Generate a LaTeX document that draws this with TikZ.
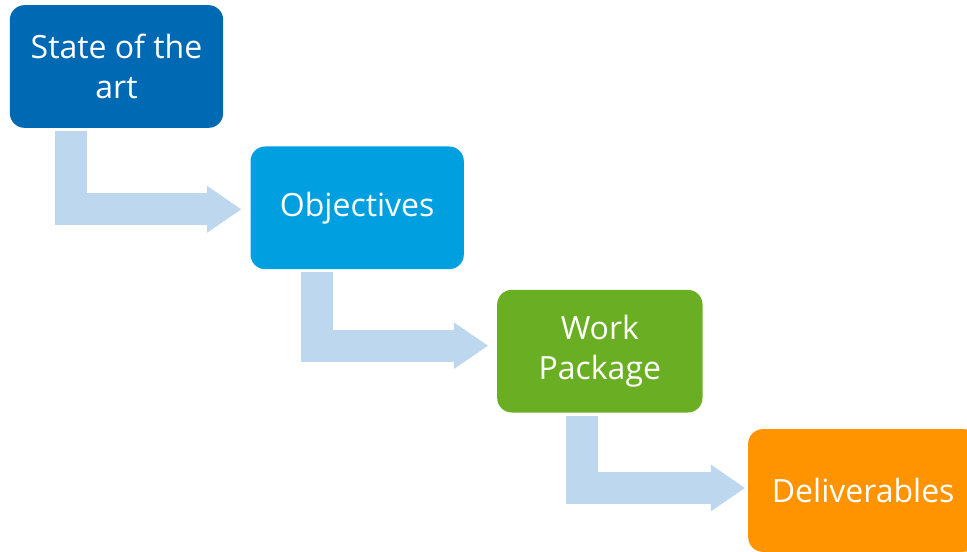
\documentclass[tikz,border=0pt]{standalone}
\usepackage{fontspec}
\setmainfont{Open Sans}
\usetikzlibrary{arrows.meta,positioning}
\definecolor{sotablue}{HTML}{0069B4}
\definecolor{objblue}{HTML}{009FDF}
\definecolor{wpgreen}{HTML}{6AAF23}
\definecolor{delorange}{HTML}{FF9400}
\definecolor{flowblue}{HTML}{BDD7EE}
\begin{document}
\begin{tikzpicture}[x=0.75pt, y=-0.75pt, on grid,
  block/.style={rectangle, rounded corners=11pt, text=white, align=center,
    minimum width=160pt, minimum height=92pt, inner sep=0pt,
    font=\fontsize{24}{30}\selectfont},
  flow/.style={draw=flowblue, line width=24pt, line join=miter,
    -{Triangle[length=25.5pt, width=35pt, line width=0pt]}}]
  \useasboundingbox (0,0) rectangle (967,552);

  \node[block, fill=sotablue] (sota) at (116.5,66.5) {State of the\\art};
  \node[block, fill=objblue] (obj) [below right=106pt and 180.5pt of sota] {Objectives};
  \node[block, fill=wpgreen, minimum width=154pt] (wp) [below right=107.5pt and 182pt of obj] {Work\\Package};
  \node[block, fill=delorange, minimum width=172.5pt] (del) [below right=104.5pt and 197.5pt of wp] {Deliverables};

  \draw[flow, shorten <=2.25pt, shorten >=6.75pt]
    ([xshift=-34.5pt]sota.south) |- ([yshift=-1.1pt]obj.west);
  \draw[flow, shorten <=2.25pt, shorten >=6.75pt]
    ([xshift=-30pt]obj.south) |- ([yshift=4.1pt]wp.west);
  \draw[flow, shorten <=2.25pt, shorten >=2.25pt]
    ([xshift=-13.5pt]wp.south) |- ([yshift=1.9pt]del.west);
\end{tikzpicture}
\end{document}
